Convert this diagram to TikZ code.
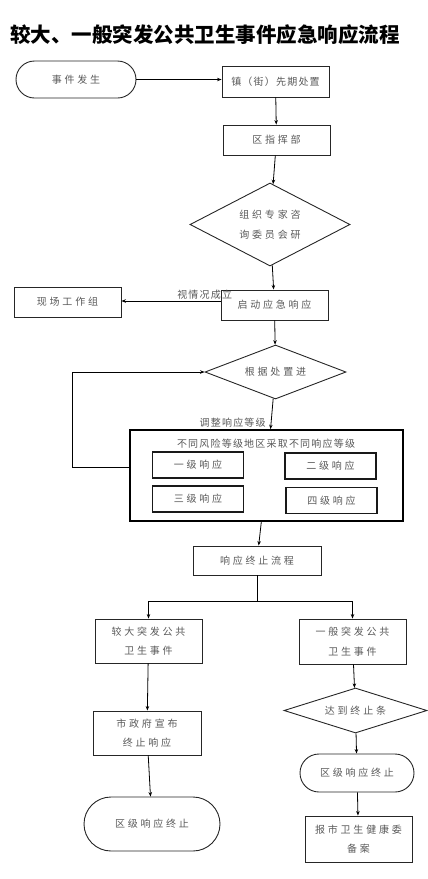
\documentclass[tikz,border=0pt]{standalone}
\usepackage{fontspec}
\setmainfont{Noto Sans CJK SC}
\newfontfamily\boxfont[LetterSpace=28]{Noto Sans CJK SC}
\newfontfamily\wordfont[LetterSpace=12]{Noto Sans CJK SC}
\usetikzlibrary{arrows.meta,shapes.misc,shapes.geometric}

\begin{document}
\begin{tikzpicture}[x=1pt,y=-1pt,>={Stealth[length=4.5pt,width=3.5pt]},
    every node/.style={text=black!65,font=\boxfont\fontsize{10}{19.5}\selectfont,align=center,inner sep=1pt},
    box/.style={draw=black!85,line width=0.9pt,minimum width=#1,minimum height=30pt},
    box/.default=107pt,
    level/.style={draw=black!90,line width=1.6pt,minimum width=91pt,minimum height=26pt},
    stadium/.style={rounded rectangle,draw=black!85,line width=0.9pt},
    choice/.style={diamond,aspect=2,draw=black!85,line width=0.9pt},
    link/.style={->,black,line width=0.8pt}]
  \useasboundingbox (0,0) rectangle (428,879);
  \node[font=\bfseries\fontsize{20.5}{24}\selectfont,text=black] (title) at (205,35) {较大、一般突发公共卫生事件应急响应流程};
  % upper part
  \node[stadium,minimum width=122pt,minimum height=37pt] (start) at (76,79.5) {事件发生};
  \node[box,minimum height=31pt,font=\wordfont\fontsize{10}{12}\selectfont] (town) at (275.5,81.5) {镇（街）先期处置};
  \node[box] (hq) at (276.5,140) {区指挥部};
  \node[choice,minimum width=160pt,minimum height=83pt] (expert) at (270,224.5) {组织专家咨\\询委员会研};
  \node[box] (launch) at (274.5,305) {启动应急响应};
  \node[box] (field) at (67.5,302) {现场工作组};
  \node[choice,minimum width=141pt,minimum height=54pt] (assess) at (275.5,372) {根据处置进};
  \draw[link] (start.east) -- (start.east -| town.west);
  \draw[link] (town) -- (hq);
  \draw[link] (hq) -- (expert);
  \draw[link] (expert) -- (launch);
  \draw[link] ([yshift=4pt]launch.west) -- ([yshift=4pt]launch.west -| field.east)
    node[pos=0.16,above,font=\wordfont\fontsize{10}{12}\selectfont] {视情况成立};
  \draw[link] (launch) -- (assess);
  % response levels
  \node[draw=black,line width=1.6pt,minimum width=273pt,minimum height=91pt] (levels) at (266.5,475.5) {};
  \node[font=\wordfont\fontsize{10}{12}\selectfont] (levelshead) at (266,444) {不同风险等级地区采取不同响应等级};
  \node[level] (lv1) at (198,465) {一级响应};
  \node[level] (lv2) at (330.5,466) {二级响应};
  \node[level] (lv3) at (198,499) {三级响应};
  \node[level] (lv4) at (331.5,500.5) {四级响应};
  \draw[link] (assess) -- (levels)
    node[pos=0.8,left=4pt,font=\wordfont\fontsize{10}{12}\selectfont] {调整响应等级};
  \draw[link] ([yshift=8pt]levels.west) -- ++(-57,0) |- (assess.west);
  % termination
  \node[box=128pt,minimum height=29pt] (endflow) at (257,560.5) {响应终止流程};
  \draw[link] (levels) -- (endflow);
  \coordinate (split) at (257,601);
  \node[box,minimum height=44pt] (major) at (148.5,641) {较大突发公共\\卫生事件};
  \node[box,minimum height=45pt] (minor) at (352.5,641.5) {一般突发公共\\卫生事件};
  \draw[black,line width=0.8pt] (endflow) -- (split);
  \draw[link] (split) -| (major);
  \draw[link] (split) -| (minor);
  \node[box=108pt,minimum height=44pt] (govt) at (147,733) {市政府宣布\\终止响应};
  \node[stadium,minimum width=138pt,minimum height=54pt] (endA) at (152,824) {区级响应终止};
  \draw[link] (major) -- (govt);
  \draw[link] (govt) -- (endA);
  \node[choice,minimum width=143pt,minimum height=45pt] (reached) at (355.5,710.5) {达到终止条};
  \node[stadium,minimum width=116pt,minimum height=38pt] (endB) at (357,773) {区级响应终止};
  \node[box,minimum height=46pt] (report) at (358.5,839) {报市卫生健康委\\备案};
  \draw[link] (minor) -- (reached);
  \draw[link] (reached) -- (endB);
  \draw[link] (endB) -- (report);
\end{tikzpicture}
\end{document}
